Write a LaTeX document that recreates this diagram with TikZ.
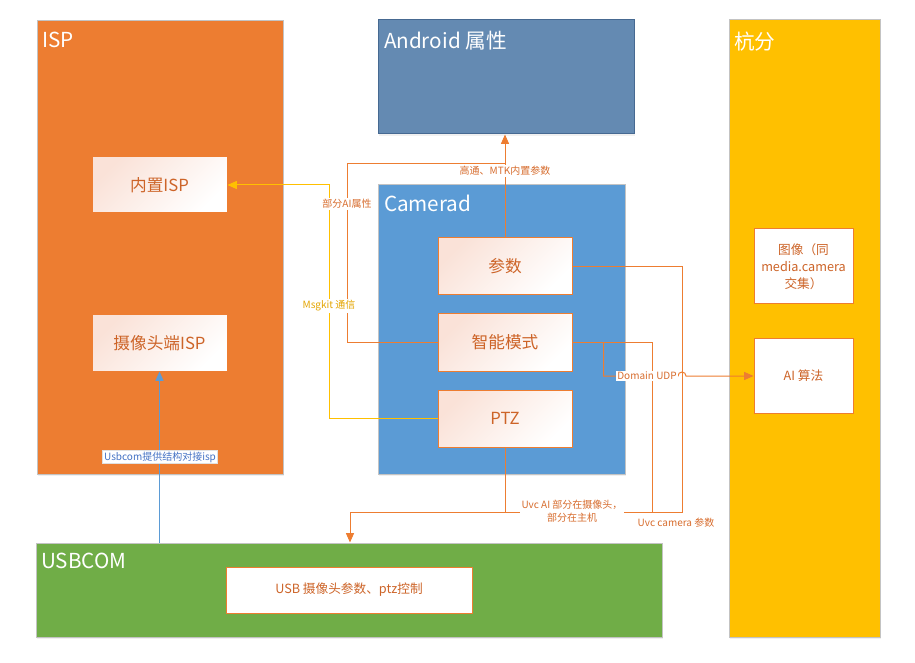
\documentclass[tikz,border=0pt]{standalone}
\usepackage{fontspec}
\setmainfont{Noto Sans CJK SC}
\usetikzlibrary{fit,arrows.meta,shadows}

\definecolor{ispor}{RGB}{237,125,49}
\definecolor{andblue}{RGB}{100,138,178}
\definecolor{andedge}{RGB}{70,105,145}
\definecolor{cmblue}{RGB}{91,155,213}
\definecolor{hfyellow}{RGB}{255,192,0}
\definecolor{usbgreen}{RGB}{112,173,71}
\definecolor{panelgray}{RGB}{195,195,195}
\definecolor{boxpink}{RGB}{250,226,216}
\definecolor{boxtxt}{RGB}{205,100,40}
\definecolor{lbltxt}{RGB}{215,108,45}
\definecolor{msgtxt}{RGB}{228,165,0}
\definecolor{usbtxt}{RGB}{68,114,196}

\tikzset{every picture/.style={line width=0.75pt},
  panel/.style={draw=panelgray, inner sep=0pt, drop shadow={opacity=0.12, shadow xshift=1pt, shadow yshift=-1.5pt}},
  boxsize/.style 2 args={minimum width=#1*0.75pt, minimum height=#2*0.75pt},
  ibox/.style={draw=ispor, inner sep=0pt, top color=boxpink, bottom color=white, shading angle=45, text=boxtxt, font=\fontsize{12.5}{15}\selectfont},
  wbox/.style={draw=ispor, fill=white, inner sep=0pt, text=boxtxt, align=center, font=\fontsize{9.5}{12.8}\selectfont},
  ptitle/.style={anchor=base west, inner sep=0pt, text=white, font=\fontsize{15.5}{18}\selectfont},
  oline/.style={draw=ispor},
  yline/.style={draw=hfyellow},
  bline/.style={draw=cmblue},
  toarr/.style={-{Triangle[length=7pt,width=6pt]}},
  lbl/.style={fill=white, inner sep=1pt, text=lbltxt, font=\fontsize{7.5}{9.5}\selectfont}
}

\begin{document}
\begin{tikzpicture}[x=0.75pt,y=0.75pt,yscale=-1,xscale=1]
\useasboundingbox (0,0) rectangle (915,663);

%Rect panels
\node[panel, fill=ispor, fit={(37,21) (283,474)}] (isp) {};
\node[panel, fill=andblue, draw=andedge, fit={(378,20) (634,134)}] (android) {};
\node[panel, fill=cmblue, fit={(378,185) (625,474)}] (camerad) {};
\node[panel, fill=hfyellow, fit={(729,20) (880,637)}] (hangfen) {};
\node[panel, fill=usbgreen, fit={(36,543) (662,637)}] (usbcom) {};

% Text Node
\node[ptitle] (ispT) at ([shift={(5,27)}]isp.north west) {ISP};
\node[ptitle] (androidT) at ([shift={(6,29)}]android.north west) {Android 属性};
\node[ptitle] (cameradT) at ([shift={(6,27)}]camerad.north west) {Camerad};
\node[ptitle] (hangfenT) at ([shift={(5,30)}]hangfen.north west) {杭分};
\node[ptitle] (usbcomT) at ([shift={(5,26)}]usbcom.north west) {USBCOM};

%Inner boxes
\node[ibox, boxsize={135}{56}] (inisp) at (159.5,185) {内置ISP};
\node[ibox, boxsize={135}{56}] (camisp) at (159.5,343) {摄像头端ISP};
\node[ibox, boxsize={134}{57}] (params) at (505,266.5) {参数};
\node[ibox, boxsize={134}{57}] (smart) at (505,342.5) {智能模式};
\node[ibox, boxsize={134}{57}] (ptz) at (505,418.5) {PTZ};
\node[wbox, boxsize={99}{75}] (image) at (803.5,266.5) {图像（同\\media.camera\\交集）};
\node[wbox, boxsize={99}{74}] (ai) at (803.5,376) {AI 算法};
\node[wbox, boxsize={246}{46}] (usbbox) at (349,590) {USB 摄像头参数、ptz控制};

%Straight Lines
\coordinate (jAI) at (params.north |- 0,164);
\coordinate (busR) at (682,512);
\coordinate (busL) at (350,512);
\draw[oline, toarr] (params.north) -- (params.north |- android.south);
\draw[oline] (smart.west) -- ++(-90,0) |- (jAI);
\draw[yline, toarr] (ptz.west) -- ++(-108,0) |- (inisp.east);
\draw[oline, toarr] (params.east) -| (busR) -- (busL) -- (busL |- usbcom.north);
\draw[oline] (smart.east) -- ++(80,0) coordinate (smR) -- (smR |- busR);
\draw[oline] (ptz.south) -- (ptz.south |- busR);
\coordinate (hop) at (busR |- ai.west);
\draw[oline, toarr] (smart.east) ++(31,0) coordinate (udpS) -- (udpS |- ai.west) -- ([xshift=-3pt]hop) arc[start angle=180, end angle=360, radius=4] -- (ai.west);
\draw[bline, toarr] (camisp.south |- usbcom.north) -- (camisp.south);

% Text Node
\node[lbl] (lblMtk) at (505,171) {高通、MTK内置参数};
\node[lbl] (lblAI) at (347,204) {部分AI属性};
\node[lbl, text=msgtxt] (lblMsg) at (329,306) {Msgkit 通信};
\node[lbl] (lblUdp) at (647,376) {Domain UDP};
\node[lbl, align=center] (lblUvcAI) at (572,511) {Uvc AI 部分在摄像头，\\部分在主机};
\node[lbl, fill=none] (lblUvcCam) at (676,523) {Uvc camera 参数};
\node[lbl, text=usbtxt, draw=black!12, line width=0.4pt] (lblUsb) at (160,457) {Usbcom提供结构对接isp};

\end{tikzpicture}
\end{document}
